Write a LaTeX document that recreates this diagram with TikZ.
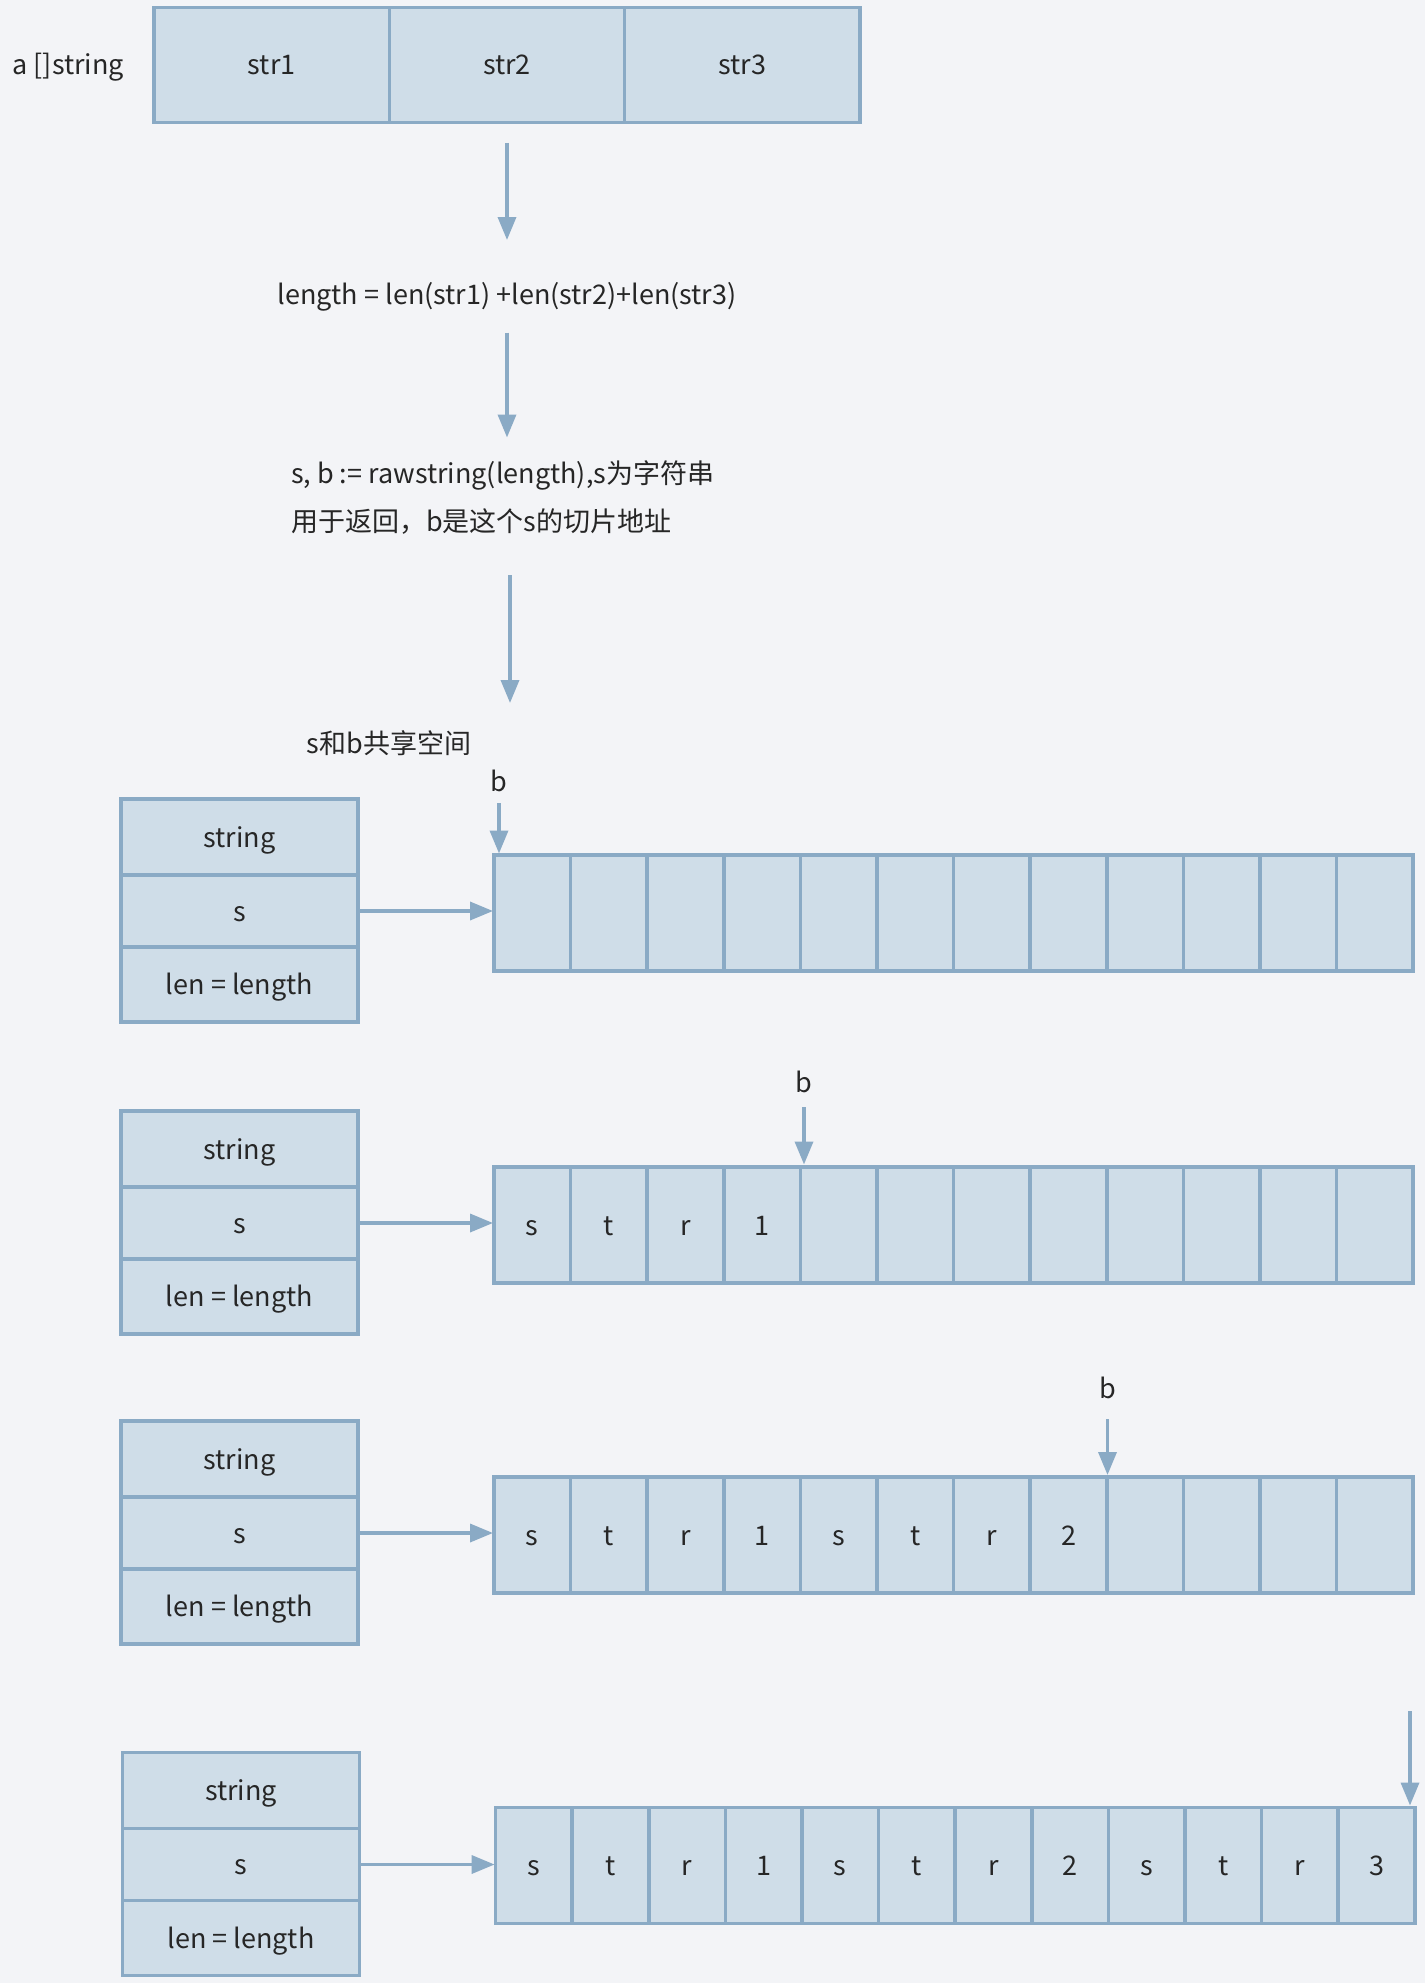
\documentclass[tikz,border=0pt]{standalone}
\usepackage{fontspec}
\setmainfont{Noto Sans CJK SC}
\usetikzlibrary{arrows.meta}
\definecolor{bgc}{HTML}{F3F4F7}
\definecolor{fillc}{HTML}{CFDDE8}
\definecolor{bordc}{HTML}{8AAAC5}
\definecolor{txtc}{HTML}{262626}
\begin{document}
\begin{tikzpicture}[x=1pt,y=-1pt,
  font=\fontsize{27}{32}\selectfont,
  cell/.style={draw=bordc, fill=fillc, line width=3.5pt, inner sep=0pt, outer sep=0pt,
    minimum width=76.6pt, minimum height=116pt, text=txtc,
    text height=23pt, text depth=3pt},
  topcell/.style={cell, minimum width=235.3pt, minimum height=115pt},
  srow/.style={cell, minimum width=237pt},
  lbl/.style={inner sep=0pt, outer sep=0pt, text=txtc, text height=20pt, text depth=6pt},
  arr/.style={draw=bordc, line width=3.5pt, -{Triangle[width=18pt,length=23pt]}}]
\useasboundingbox (0,0) rectangle (1425,1983);
\fill[bgc] (0,0) rectangle (1425,1983);

% top array
\node[lbl, anchor=base west] (alab) at (12.6,75) {a []string};
\node[topcell] (a1) at (271.7,65) {str1};
\node[topcell] (a2) at (507.0,65) {str2};
\node[topcell] (a3) at (742.3,65) {str3};

\node[lbl, anchor=base] (lenT) at (507,304) {length = len(str1) +len(str2)+len(str3)};
\node[lbl, anchor=base west] (raw1) at (291,483) {s, b := rawstring(length),s为字符串};
\node[lbl, anchor=base west] (raw2) at (291,531) {用于返回，b是这个s的切片地址};
\node[lbl, anchor=base west] (share) at (306.7,753) {s和b共享空间};

\draw[arr, shorten <=20.5pt, shorten >=44pt] (a2.south) -- (a2.south |- lenT.north);
\draw[arr, shorten <=22.5pt, shorten >=25.5pt] (lenT.south) -- (lenT.south |- raw1.north);
\coordinate (ax) at (510,0);
\draw[arr, shorten <=38pt, shorten >=30pt] (ax |- raw2.south) -- (ax |- share.north);

% memory arrays
\foreach \t [count=\i] in {{},{},{},{},{},{},{},{},{},{},{},{}}
  \node[cell, anchor=west] (g1-\i) at ({494+(\i-1)*76.6},913) {\t};
\foreach \t [count=\i] in {s,t,r,1,{},{},{},{},{},{},{},{}}
  \node[cell, anchor=west] (g2-\i) at ({494+(\i-1)*76.6},1225) {\t};
\foreach \t [count=\i] in {s,t,r,1,s,t,r,2,{},{},{},{}}
  \node[cell, anchor=west] (g3-\i) at ({494+(\i-1)*76.6},1535) {\t};
\foreach \t [count=\i] in {s,t,r,1,s,t,r,2,s,t,r,3}
  \node[cell, anchor=west] (g4-\i) at ({495.6+(\i-1)*76.6},1865.5) {\t};

% string headers
\foreach \g/\cx/\top in {1/239.5/799, 2/239.5/1111, 3/239.5/1421, 4/241/1752.5} {
  \node[srow, minimum height=76pt, anchor=north] (g\g t) at (\cx,\top) {string};
  \node[srow, minimum height=72pt, anchor=north] (g\g s) at (g\g t.south) {s};
  \node[srow, minimum height=75pt, anchor=north] (g\g l) at (g\g s.south) {len = length};
  \draw[arr, shorten <=-1.5pt, shorten >=1pt] (g\g s.east) -- (g\g s.east -| g\g-1.west);
}

% b pointers
\node[lbl, anchor=base] (b1) at (499,791) {b};
\draw[arr, shorten <=6pt, shorten >=1.5pt] (b1.south) -- (b1.south |- g1-1.north);
\node[lbl, anchor=base] (b2) at (804,1092) {b};
\draw[arr, shorten <=9pt, shorten >=2.5pt] (b2.south) -- (b2.south |- g2-5.north);
\node[lbl, anchor=base] (b3) at (1107.5,1398) {b};
\draw[arr, shorten <=15pt, shorten >=2pt] (b3.south) -- (b3.south |- g3-9.north);
\coordinate (b4) at (1410,1711);
\draw[arr, shorten >=2pt] (b4) -- (b4 |- g4-12.north);
\end{tikzpicture}
\end{document}
